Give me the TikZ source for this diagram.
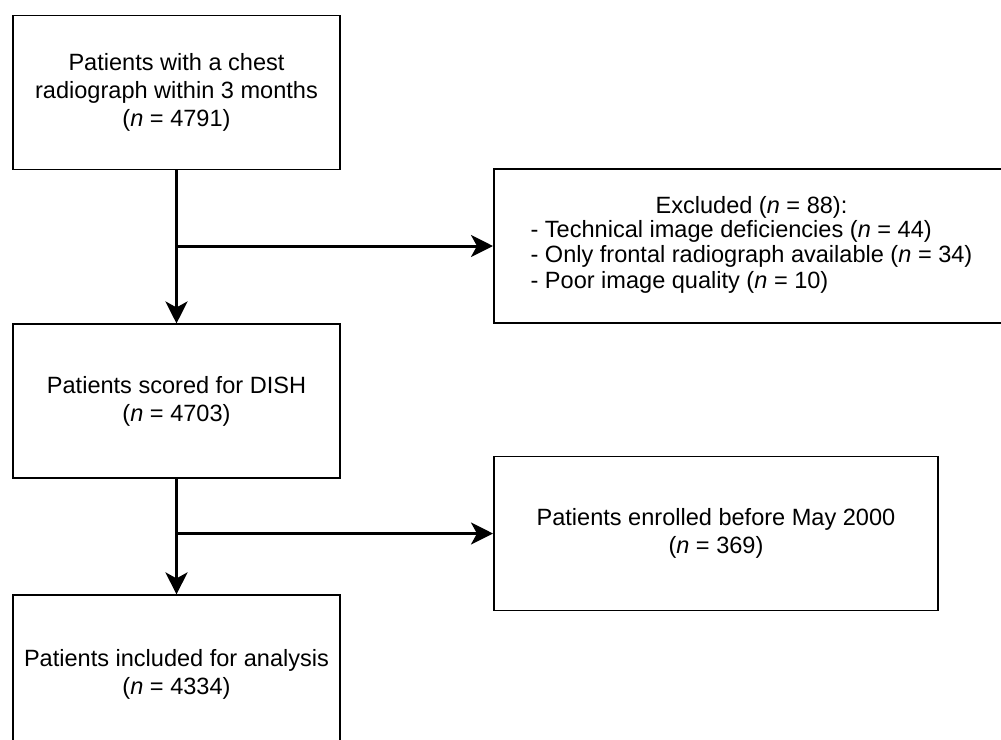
\documentclass[tikz,border=0pt]{standalone}
\usepackage{fontspec}
\setmainfont{Liberation Sans}
\usepackage{tikz}
\usetikzlibrary{arrows.meta,positioning}

\begin{document}
\begin{tikzpicture}[font=\fontsize{13.4}{15.8}\selectfont,
  box/.style={rectangle, draw, line width=1.1pt, align=center, minimum height=3.08cm, inner sep=0pt},
  flow/.style={line width=1.7pt, -{Stealth[length=0.44cm, width=0.44cm, inset=0.12cm]}}]
  \clip (0,0) rectangle (20.02,-14.8);
  \node[box, minimum width=6.54cm] (start) at (3.53,-1.85) {Patients with a chest\\ radiograph within 3 months\\ (\textit{n} = 4791)};
  \node[box, minimum width=6.54cm, below=3.06cm of start] (scored) {Patients scored for DISH\\ (\textit{n} = 4703)};
  \node[box, minimum width=6.54cm, minimum height=3.16cm, below=2.3cm of scored] (included) {Patients included for analysis\\ (\textit{n} = 4334)};
  \node[box, minimum width=10.3cm, anchor=west, font=\fontsize{13.4}{14.4}\selectfont] (excluded) at (9.86,-4.92) {Excluded (\textit{n} = 88):\\
    \begin{tabular}{@{}l@{}}
      - Technical image deficiencies (\textit{n} = 44)\\
      - Only frontal radiograph available (\textit{n} = 34)\\
      - Poor image quality (\textit{n} = 10)
    \end{tabular}};
  \node[box, minimum width=8.88cm, anchor=west] (enrolled) at (9.86,-10.67) {Patients enrolled before May 2000\\ (\textit{n} = 369)};

  \draw[flow] (start) -- (scored);
  \draw[flow] (start.south |- excluded.west) -- (excluded);
  \draw[flow] (scored) -- (included);
  \draw[flow] (scored.south |- enrolled.west) -- (enrolled);
\end{tikzpicture}
\end{document}
